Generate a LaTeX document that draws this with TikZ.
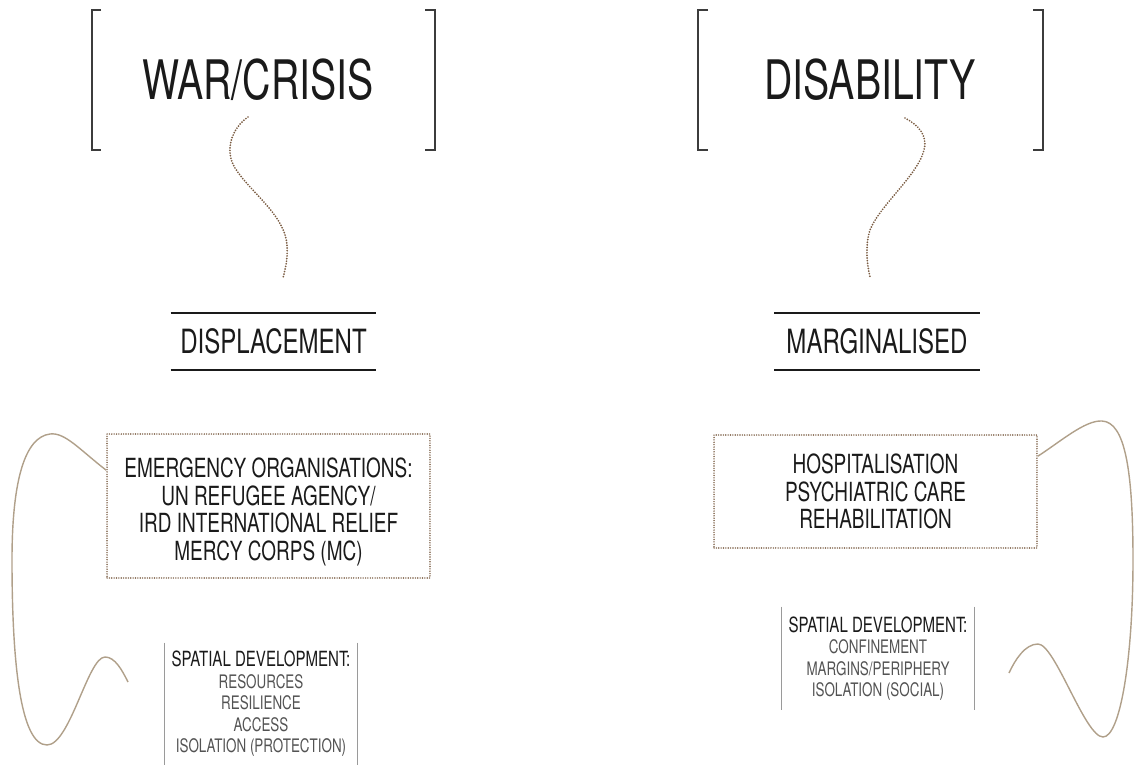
\documentclass[tikz,border=0pt]{standalone}
\usepackage{fontspec}
\setmainfont[FakeStretch=0.72]{TeX Gyre Heros}
\usetikzlibrary{positioning}
\definecolor{ink}{HTML}{1A1A1A}
\definecolor{bark}{HTML}{7A5C42}
\definecolor{sand}{HTML}{B0A08A}
\definecolor{frame}{HTML}{3C3C3C}
\definecolor{rulegray}{HTML}{9A9A9A}
\newcommand{\spathead}[1]{{\fontsize{11.9}{12.2}\selectfont\color{ink}#1}}

\begin{document}
\begin{tikzpicture}[x=0.02cm,y=-0.02cm,
  brack/.style={draw=frame,line width=1.4pt},
  heading/.style={text=ink,font=\fontsize{31}{31}\selectfont},
  tag/.style={text=ink,font=\fontsize{19}{19}\selectfont,minimum width=4.1cm,minimum height=1.14cm,inner sep=0pt},
  bar/.style={draw=ink,line width=1.2pt},
  dotbox/.style={draw=bark,line width=0.9pt,line cap=round,dash pattern=on 0pt off 1.35pt,align=center,text=ink,font=\fontsize{15}{15.8}\selectfont,minimum width=6.46cm,inner sep=0pt},
  trail/.style={draw=bark,line width=1.1pt,line cap=round,dash pattern=on 0pt off 1.5pt},
  sweep/.style={draw=sand,line width=0.8pt},
  spatial/.style={align=center,text=ink!75,font=\fontsize{10.6}{12.2}\selectfont,minimum width=3.84cm,inner sep=0pt},
  sideline/.style={draw=rulegray,line width=0.8pt}]
\useasboundingbox (0,0) rectangle (1134,771);

% titles in brackets
\node[heading] (war) at (258,80) {WAR/CRISIS};
\node[heading] (disab) at (870,80) {DISABILITY};
\draw[brack] (101,10) -| (92,150) -- (101,150);
\draw[brack] (425,10) -| (435,150) -- (425,150);
\draw[brack] (708,10) -| (698,150) -- (708,150);
\draw[brack] (1033,10) -| (1043,150) -- (1033,150);

% second level
\node[tag] (displ) at (273.5,341.5) {DISPLACEMENT};
\node[tag] (margin) at (877,341.5) {MARGINALISED};
\draw[bar] (displ.north west) -- (displ.north east);
\draw[bar] (displ.south west) -- (displ.south east);
\draw[bar] (margin.north west) -- (margin.north east);
\draw[bar] (margin.south west) -- (margin.south east);

% dotted trails
\draw[trail] (248,117) .. controls (232,128) and (224,150) .. (235,168)
  .. controls (250,192) and (285,215) .. (287,245)
  .. controls (288,260) and (285,270) .. (283,278);
\draw[trail] (905,118) .. controls (918,125) and (928,135) .. (924,150)
  .. controls (918,175) and (880,205) .. (870,230)
  .. controls (865,245) and (867,265) .. (870,277);

% boxes
\node[dotbox,minimum height=2.88cm] (emerg) at (268.5,506) {\rule{0pt}{18pt}EMERGENCY ORGANISATIONS:\\UN REFUGEE AGENCY/\\IRD INTERNATIONAL RELIEF\\MERCY CORPS (MC)};
\node[dotbox,minimum height=2.26cm] (hosp) at (875.5,491.5) {HOSPITALISATION\\PSYCHIATRIC CARE\\REHABILITATION};

% spatial development
\node[spatial,minimum height=2.44cm] (spatL) at (261,704) {\spathead{SPATIAL DEVELOPMENT:}\\RESOURCES\\RESILIENCE\\ACCESS\\ISOLATION (PROTECTION)};
\node[spatial,minimum height=2.06cm] (spatR) at (878,658.5) {\spathead{SPATIAL DEVELOPMENT:}\\CONFINEMENT\\MARGINS/PERIPHERY\\ISOLATION (SOCIAL)};
\draw[sideline] (spatL.north west) -- (spatL.south west);
\draw[sideline] (spatL.north east) -- (spatL.south east);
\draw[sideline] (spatR.north west) -- (spatR.south west);
\draw[sideline] (spatR.north east) -- (spatR.south east);

% loops
\draw[sweep] (emerg.north west) ++(0,37) .. controls (80,450) and (65,432) .. (50,434)
  .. controls (25,437) and (12,480) .. (12,560)
  .. controls (12,660) and (20,745) .. (47,745)
  .. controls (70,745) and (88,657) .. (105,657)
  .. controls (115,657) and (122,670) .. (128,682);
\draw[sweep] (hosp.north east) ++(0,22) .. controls (1060,442) and (1085,420) .. (1102,421)
  .. controls (1125,422) and (1133,470) .. (1133,560)
  .. controls (1133,660) and (1120,737) .. (1103,737)
  .. controls (1085,737) and (1055,644) .. (1038,644)
  .. controls (1025,644) and (1015,660) .. (1009,673);
\end{tikzpicture}
\end{document}
